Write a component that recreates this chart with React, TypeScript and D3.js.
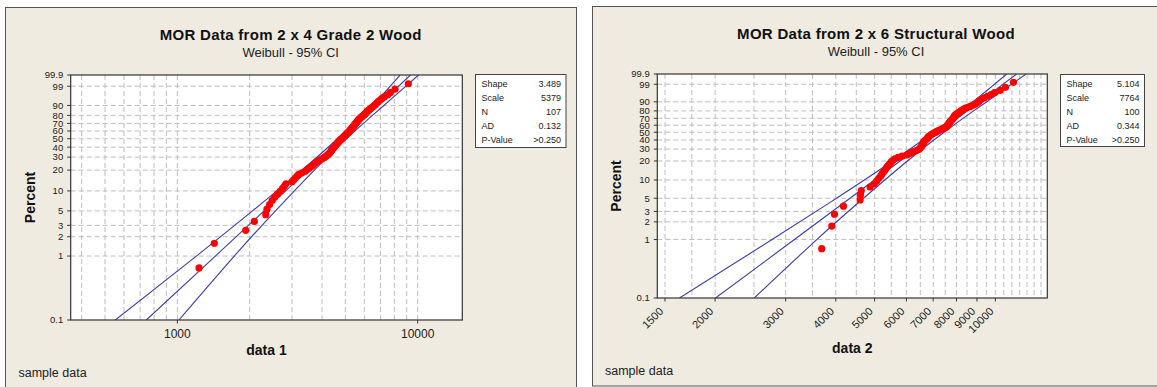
import React from "react"
import * as d3 from "d3"

// sorted sample values
const data1 = [
  1231, 1425, 1925, 2091, 2332, 2360, 2420, 2480, 2540, 2610,
  2680, 2740, 2790, 2830, 3000, 3050, 3100, 3150, 3200, 3300,
  3400, 3460, 3520, 3580, 3640, 3690, 3740, 3790, 3860, 3930,
  4000, 4070, 4130, 4180, 4230, 4270, 4310, 4340, 4370, 4390,
  4420, 4450, 4480, 4510, 4540, 4570, 4600, 4630, 4660, 4690,
  4720, 4750, 4790, 4830, 4870, 4900, 4940, 4970, 5010, 5040,
  5080, 5110, 5150, 5180, 5210, 5240, 5270, 5300, 5330, 5360,
  5390, 5420, 5450, 5480, 5510, 5540, 5570, 5600, 5630, 5660,
  5700, 5740, 5780, 5830, 5880, 5930, 5980, 6030, 6080, 6120,
  6160, 6230, 6300, 6370, 6440, 6520, 6600, 6680, 6760, 6850,
  6960, 7080, 7250, 7500, 7700, 8050, 9140,
]
const data2 = [
  3690, 3910, 3970, 4180, 4600, 4610, 4630, 4870, 4990, 5060,
  5120, 5180, 5220, 5270, 5310, 5350, 5390, 5430, 5470, 5510,
  5560, 5620, 5720, 5850, 6010, 6100, 6180, 6250, 6350, 6430,
  6480, 6510, 6540, 6560, 6580, 6600, 6610, 6620, 6650, 6690,
  6720, 6750, 6780, 6800, 6830, 6870, 6910, 6960, 7010, 7060,
  7110, 7170, 7240, 7300, 7360, 7420, 7480, 7550, 7580, 7600,
  7620, 7640, 7660, 7680, 7700, 7720, 7750, 7780, 7810, 7840,
  7860, 7880, 7900, 7920, 7940, 7990, 8040, 8090, 8140, 8180,
  8230, 8290, 8350, 8420, 8540, 8660, 8760, 8860, 8950, 9030,
  9100, 9150, 9250, 9390, 9560, 9760, 9950, 10280, 10600, 11100,
]

// fitted line and 95% CI, x value at each percent level
const ciLevels = [0.1, 1, 5, 20, 50, 80, 95, 99.9]
const fit1 = [743, 1439, 2294, 3500, 4843, 6164, 7365, 9330]
const lower1 = [552, 1200, 2055, 3296, 4637, 5860, 6922, 8450]
const upper1 = [1015, 1725, 2561, 3716, 5058, 6484, 7836, 10080]
const fit2 = [2005, 3154, 4340, 5787, 7226, 8522, 9627, 11300]
const lower2 = [1630, 2774, 4016, 5548, 7010, 8226, 9221, 10680]
const upper2 = [2505, 3586, 4690, 6036, 7449, 8828, 10051, 11930]

const percentTicks = [0.1, 1, 2, 3, 5, 10, 20, 30, 40, 50, 60, 70, 80, 90, 99, 99.9]
const grid1 = [400, 500, 600, 700, 800, 900, 1000, 2000, 3000, 4000, 5000, 6000, 7000, 8000, 9000, 10000]
const labels1 = [1000, 10000]
const grid2 = [1500, 1750, 2000, 2500, 3000, 3500, 4000, 4500, 5000, 5500, 6000, 6500, 7000, 7500,
  8000, 8500, 9000, 9500, 10000, 10500, 11000, 11500, 12000, 12500, 13000]
const labels2 = [1500, 2000, 3000, 4000, 5000, 6000, 7000, 8000, 9000, 10000]

const statNames = ["Shape", "Scale", "N", "AD", "P-Value"]
const stats1 = ["3.489", "5379", "107", "0.132", ">0.250"]
const stats2 = ["5.104", "7764", "100", "0.344", ">0.250"]

const FONT = "'Liberation Sans', Arial, sans-serif"
const NARROW = "'Liberation Sans Narrow', 'Liberation Sans', Arial, sans-serif"
const BG = "#efebe1"
const LINE = "#3c3ca8"

const weib = (p: number) => Math.log(-Math.log(1 - p / 100))

function Panel({ cfg }: { cfg: any }) {
  const { box, plot } = cfg
  const x = d3.scaleLog().domain(cfg.xDomain).range([plot.l, plot.r])
  const y = d3.scaleLinear().domain([weib(0.1), weib(99.9)]).range([plot.b, plot.t])
  const n = cfg.values.length
  const pts = cfg.values.map((v: number, i: number) => ({ v, p: ((i + 1 - 0.3) / (n + 0.4)) * 100 }))

  const curve = d3.line<[number, number]>()
    .x(d => x(d[0]))
    .y(d => y(weib(d[1])))
    .curve(d3.curveNatural)
  const straight = d3.line<[number, number]>()
    .x(d => x(d[0]))
    .y(d => y(weib(d[1])))

  const pairs = (arr: number[]) => arr.map((v, i) => [v, ciLevels[i]] as [number, number])
  const clipId = "clip" + cfg.id
  const midX = (plot.l + plot.r) / 2
  const midY = (plot.t + plot.b) / 2

  return (
    <g>
      <rect x={box.x} y={box.y} width={box.w} height={box.h} fill={BG} stroke="#555" strokeWidth={1} />
      <text x={cfg.titleX} y={cfg.titleY} textAnchor="middle" fontFamily={FONT} fontWeight="bold" fontSize={15} letterSpacing={0.3} fill="#111">{cfg.title}</text>
      <text x={cfg.titleX} y={cfg.titleY + 17} textAnchor="middle" fontFamily={FONT} fontSize={13} fill="#222">Weibull - 95% CI</text>

      <defs>
        <clipPath id={clipId}>
          <rect x={plot.l} y={plot.t} width={plot.r - plot.l} height={plot.b - plot.t} />
        </clipPath>
      </defs>
      <rect x={plot.l} y={plot.t} width={plot.r - plot.l} height={plot.b - plot.t} fill="#fff" />

      {/* grid */}
      {cfg.grid.map((g: number) => (
        <line key={"gx" + g} x1={x(g)} x2={x(g)} y1={plot.t} y2={plot.b} stroke="#bdbdbd" strokeDasharray="5,3" />
      ))}
      {percentTicks.slice(1, -1).map(p => (
        <line key={"gy" + p} x1={plot.l} x2={plot.r} y1={y(weib(p))} y2={y(weib(p))} stroke="#bdbdbd" strokeDasharray="5,3" />
      ))}

      {/* fit and CI */}
      <g clipPath={`url(#${clipId})`} fill="none" stroke={LINE} strokeWidth={1.1}>
        <path d={curve(pairs(cfg.lower)) || ""} />
        <path d={straight(pairs(cfg.fit)) || ""} />
        <path d={curve(pairs(cfg.upper)) || ""} />
      </g>

      {/* points */}
      <g clipPath={`url(#${clipId})`}>
        {pts.map((d: any, i: number) => (
          <circle key={i} cx={x(d.v)} cy={y(weib(d.p))} r={3.6} fill="#f00" />
        ))}
      </g>

      <rect x={plot.l} y={plot.t} width={plot.r - plot.l} height={plot.b - plot.t} fill="none" stroke="#333" strokeWidth={1.2} />

      {/* y axis */}
      {percentTicks.map(p => (
        <g key={"ty" + p}>
          <line x1={plot.l - 3.5} x2={plot.l} y1={y(weib(p))} y2={y(weib(p))} stroke="#333" />
          <text x={plot.l - 7.5} y={y(weib(p))} dy="0.35em" textAnchor="end" fontFamily={NARROW} fontSize={9.5} fill="#222">{p}</text>
        </g>
      ))}
      <text transform={`translate(${cfg.yTitleX},${midY}) rotate(-90)`} textAnchor="middle" fontFamily={FONT} fontWeight="bold" fontSize={14} fill="#111">Percent</text>

      {/* x axis */}
      {cfg.labels.map((v: number) => (
        <g key={"tx" + v}>
          <line x1={x(v)} x2={x(v)} y1={plot.b} y2={plot.b + 3.5} stroke="#333" />
          {cfg.rotate ? (
            <text transform={`translate(${x(v) - 1},${plot.b + 14}) rotate(-45)`} textAnchor="end" fontFamily={FONT} fontSize={11} fill="#222">{v}</text>
          ) : (
            <text x={x(v)} y={plot.b + 18} textAnchor="middle" fontFamily={FONT} fontSize={12} fill="#222">{v}</text>
          )}
        </g>
      ))}
      <text x={midX} y={cfg.xTitleY} textAnchor="middle" fontFamily={FONT} fontWeight="bold" fontSize={14} fill="#111">{cfg.xTitle}</text>

      {/* stats box */}
      <rect x={cfg.leg.x} y={cfg.leg.y} width={cfg.leg.w} height={cfg.leg.h} fill="#fff" stroke="#444" />
      {statNames.map((s, i) => (
        <g key={s}>
          <text x={cfg.leg.x + 6} y={cfg.leg.y + 12.5 + i * 14} fontFamily={FONT} fontSize={9} fill="#222">{s}</text>
          <text x={cfg.leg.x + cfg.leg.w - 5} y={cfg.leg.y + 12.5 + i * 14} textAnchor="end" fontFamily={FONT} fontSize={9} fill="#222">{cfg.stats[i]}</text>
        </g>
      ))}

      <text x={cfg.noteX} y={cfg.noteY} fontFamily={FONT} fontSize={12.5} fill="#222">sample data</text>
    </g>
  )
}

const panels = [
  {
    id: 1,
    box: { x: 5.5, y: 7.5, w: 571, h: 390 },
    plot: { l: 70.7, r: 462.3, t: 75, b: 320 },
    xDomain: [360, 15330],
    values: data1, fit: fit1, lower: lower1, upper: upper1,
    grid: grid1, labels: labels1, rotate: false,
    title: "MOR Data from 2 x 4 Grade 2 Wood", titleX: 290.7, titleY: 39.5,
    xTitle: "data 1", xTitleY: 355, yTitleX: 34.5,
    leg: { x: 475.5, y: 74.5, w: 90.5, h: 73 }, stats: stats1,
    noteX: 18.5, noteY: 377,
  },
  {
    id: 2,
    box: { x: 592.5, y: 6.5, w: 567, h: 379.5 },
    plot: { l: 657.3, r: 1047.3, t: 74, b: 298 },
    xDomain: [1435, 13480],
    values: data2, fit: fit2, lower: lower2, upper: upper2,
    grid: grid2, labels: labels2, rotate: true,
    title: "MOR Data from 2 x 6 Structural Wood", titleX: 876, titleY: 38.5,
    xTitle: "data 2", xTitleY: 353, yTitleX: 620.5,
    leg: { x: 1060.5, y: 74.5, w: 84, h: 72 }, stats: stats2,
    noteX: 605, noteY: 375,
  },
]

export default function App() {
  return (
    <svg width={1157} height={387} style={{ position: "absolute", left: 0, top: 0, background: "#fff" }}>
      {panels.map(p => <Panel key={p.id} cfg={p} />)}
    </svg>
  )
}
